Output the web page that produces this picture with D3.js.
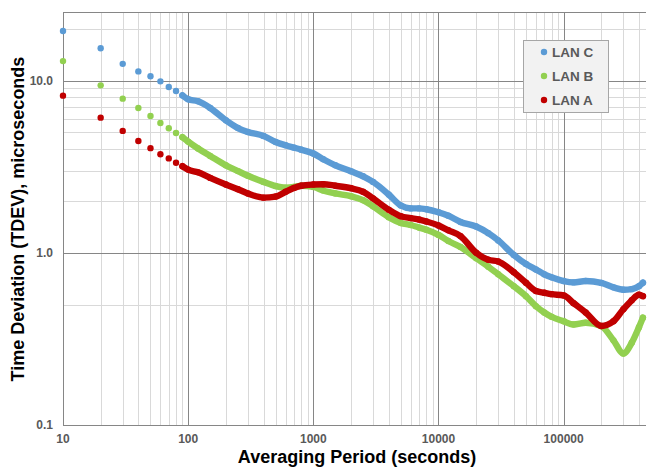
<!DOCTYPE html>
<html>
<head>
<meta charset="utf-8">
<script src="https://cdn.jsdelivr.net/npm/d3@7"></script>
<style>
  body { margin: 0; background: #fff; }
  svg { display: block; font-family: "Liberation Sans", Arial, sans-serif; }
  .grid-minor { stroke: #d9d9d9; stroke-width: 1; }
  .grid-major { stroke: #868686; stroke-width: 1; }
  .tick-label { fill: #595959; font-size: 12px; font-weight: bold; }
  .axis-title { fill: #000; font-size: 18px; font-weight: bold; }
  .legend-label { fill: #595959; font-size: 13.5px; font-weight: bold; }
</style>
</head>
<body>
<div id="chart"></div>
<script>
window.addEventListener("load", () => {

  // averaging periods (seconds)
  const tau = [10, 20, 30, 40, 50, 60, 70, 80, 90, 100, 120, 150, 200, 250, 300, 400, 500, 600, 700, 800,
               1000, 1200, 1500, 2000, 2500, 3000, 4000, 5000, 6000, 7000, 8000,
               10000, 12000, 15000, 20000, 25000, 30000, 40000, 50000, 60000, 70000, 80000,
               100000, 120000, 150000, 200000, 250000, 300000, 350000, 400000, 430000];

  // TDEV, microseconds
  const lanC = [19.4, 15.4, 12.5, 11.3, 10.6, 9.89, 9.17, 8.69, 8.20, 7.78, 7.58, 6.93, 5.88, 5.30, 5.03, 4.77, 4.40, 4.21, 4.08, 3.97,
                3.77, 3.49, 3.22, 2.97, 2.78, 2.58, 2.18, 1.88, 1.81, 1.81, 1.79,
                1.72, 1.64, 1.51, 1.42, 1.30, 1.18, 0.97, 0.86, 0.80, 0.75, 0.72,
                0.685, 0.673, 0.685, 0.668, 0.630, 0.610, 0.615, 0.640, 0.67];
  const lanB = [12.97, 9.38, 7.85, 6.93, 6.22, 5.67, 5.28, 4.96, 4.69, 4.42, 4.03, 3.65, 3.22, 2.98, 2.80, 2.58, 2.44, 2.39, 2.41, 2.45,
                2.41, 2.30, 2.21, 2.13, 2.02, 1.86, 1.61, 1.49, 1.45, 1.40, 1.36,
                1.27, 1.17, 1.08, 0.93, 0.83, 0.75, 0.64, 0.56, 0.49, 0.45, 0.425,
                0.40, 0.383, 0.392, 0.375, 0.31, 0.26, 0.30, 0.37, 0.42];
  const lanA = [8.17, 6.09, 5.10, 4.46, 4.05, 3.73, 3.53, 3.33, 3.18, 3.04, 2.93, 2.72, 2.49, 2.34, 2.21, 2.09, 2.12, 2.26, 2.38, 2.45,
                2.49, 2.50, 2.45, 2.37, 2.26, 2.07, 1.78, 1.63, 1.59, 1.56, 1.52,
                1.44, 1.35, 1.25, 1.00, 0.91, 0.89, 0.77, 0.67, 0.60, 0.586, 0.575,
                0.565, 0.51, 0.45, 0.376, 0.40, 0.47, 0.53, 0.57, 0.56];

  const seriesNames = ["LAN C", "LAN B", "LAN A"];
  const seriesColors = ["#5b9bd5", "#92d050", "#c00000"];
  const seriesValues = [lanC, lanB, lanA];

  const xTicks = [10, 100, 1000, 10000, 100000];
  const yTicks = [0.1, 1, 10];

  const margin = {top: 12, right: 1, bottom: 43, left: 63};
  const width = 647 - margin.left - margin.right;
  const height = 468 - margin.top - margin.bottom;

  const svg = d3.select("#chart").append("svg")
                .attr("width", 647)
                .attr("height", 468);
  const chart = svg.append("g")
                   .attr("transform", `translate(${margin.left},${margin.top})`);

  // scales
  const x = d3.scaleLog().domain([10, 455000]).range([0, width]);
  const y = d3.scaleLog().domain([0.1, 25]).range([height, 0]);

  // minor gridlines: 2..9 times each power of ten
  const isMinor = d => {
    const m = d / Math.pow(10, Math.floor(Math.log10(d) + 1e-9));
    return Math.abs(m - Math.round(m)) < 1e-6 && Math.round(m) >= 2;
  };
  const xMinor = x.ticks(50).filter(isMinor);
  const yMinor = y.ticks(50).filter(isMinor);

  chart.append("g").selectAll("line")
    .data(xMinor).join("line")
      .attr("class", "grid-minor")
      .attr("x1", d => Math.round(x(d)) + 0.5).attr("x2", d => Math.round(x(d)) + 0.5)
      .attr("y1", 0).attr("y2", height);

  chart.append("g").selectAll("line")
    .data(yMinor).join("line")
      .attr("class", "grid-minor")
      .attr("y1", d => Math.round(y(d)) + 0.5).attr("y2", d => Math.round(y(d)) + 0.5)
      .attr("x1", 0).attr("x2", width);

  // major gridlines
  chart.append("g").selectAll("line")
    .data(xTicks).join("line")
      .attr("class", "grid-major")
      .attr("x1", d => Math.round(x(d)) + 0.5).attr("x2", d => Math.round(x(d)) + 0.5)
      .attr("y1", 0).attr("y2", height);

  chart.append("g").selectAll("line")
    .data(yTicks).join("line")
      .attr("class", "grid-major")
      .attr("y1", d => Math.round(y(d)) + 0.5).attr("y2", d => Math.round(y(d)) + 0.5)
      .attr("x1", 0).attr("x2", width);

  // plot border (top edge)
  chart.append("line")
    .attr("class", "grid-major")
    .attr("x1", 0).attr("x2", width)
    .attr("y1", 0.5).attr("y2", 0.5);

  // tick labels
  chart.append("g").selectAll("text")
    .data(xTicks).join("text")
      .attr("class", "tick-label")
      .attr("x", d => x(d))
      .attr("y", height + 18)
      .attr("text-anchor", "middle")
      .text(d => d3.format("d")(d));

  chart.append("g").selectAll("text")
    .data(yTicks).join("text")
      .attr("class", "tick-label")
      .attr("x", -10)
      .attr("y", d => y(d))
      .attr("dy", "0.35em")
      .attr("text-anchor", "end")
      .text(d => d3.format(".1f")(d));

  // axis titles
  svg.append("text")
    .attr("class", "axis-title")
    .attr("x", 357)
    .attr("y", 463)
    .attr("text-anchor", "middle")
    .text("Averaging Period (seconds)");

  svg.append("text")
    .attr("class", "axis-title")
    .attr("transform", "translate(24,219) rotate(-90)")
    .attr("text-anchor", "middle")
    .text("Time Deviation (TDEV), microseconds");

  // series: dense part drawn as thick line, every point as a dot
  const r = 3.2;
  const line = d3.line()
    .x(d => x(d[0]))
    .y(d => y(d[1]))
    .curve(d3.curveMonotoneX);

  seriesValues.forEach((vals, i) => {
    const pts = tau.map((t, j) => [t, vals[j]]);
    const g = chart.append("g");

    g.append("path")
      .datum(pts.filter(d => d[0] >= 90))
      .attr("fill", "none")
      .attr("stroke", seriesColors[i])
      .attr("stroke-width", r * 2)
      .attr("stroke-linecap", "round")
      .attr("stroke-linejoin", "round")
      .attr("d", line);

    g.selectAll("circle")
      .data(pts).join("circle")
        .attr("cx", d => x(d[0]))
        .attr("cy", d => y(d[1]))
        .attr("r", r)
        .attr("fill", seriesColors[i]);
  });

  // legend
  const legend = svg.append("g")
    .attr("transform", "translate(523,40)");

  legend.append("rect")
    .attr("x", 0.5).attr("y", 0.5)
    .attr("width", 85).attr("height", 72)
    .attr("fill", "#f2f2f2")
    .attr("stroke", "#a6a6a6");

  seriesNames.forEach((name, i) => {
    const row = legend.append("g")
      .attr("transform", `translate(0,${12 + i * 24})`);
    row.append("circle")
      .attr("cx", 21).attr("cy", 0)
      .attr("r", 3.2)
      .attr("fill", seriesColors[i]);
    row.append("text")
      .attr("class", "legend-label")
      .attr("x", 29).attr("y", 0)
      .attr("dy", "0.35em")
      .text(name);
  });
});
</script>
</body>
</html>
